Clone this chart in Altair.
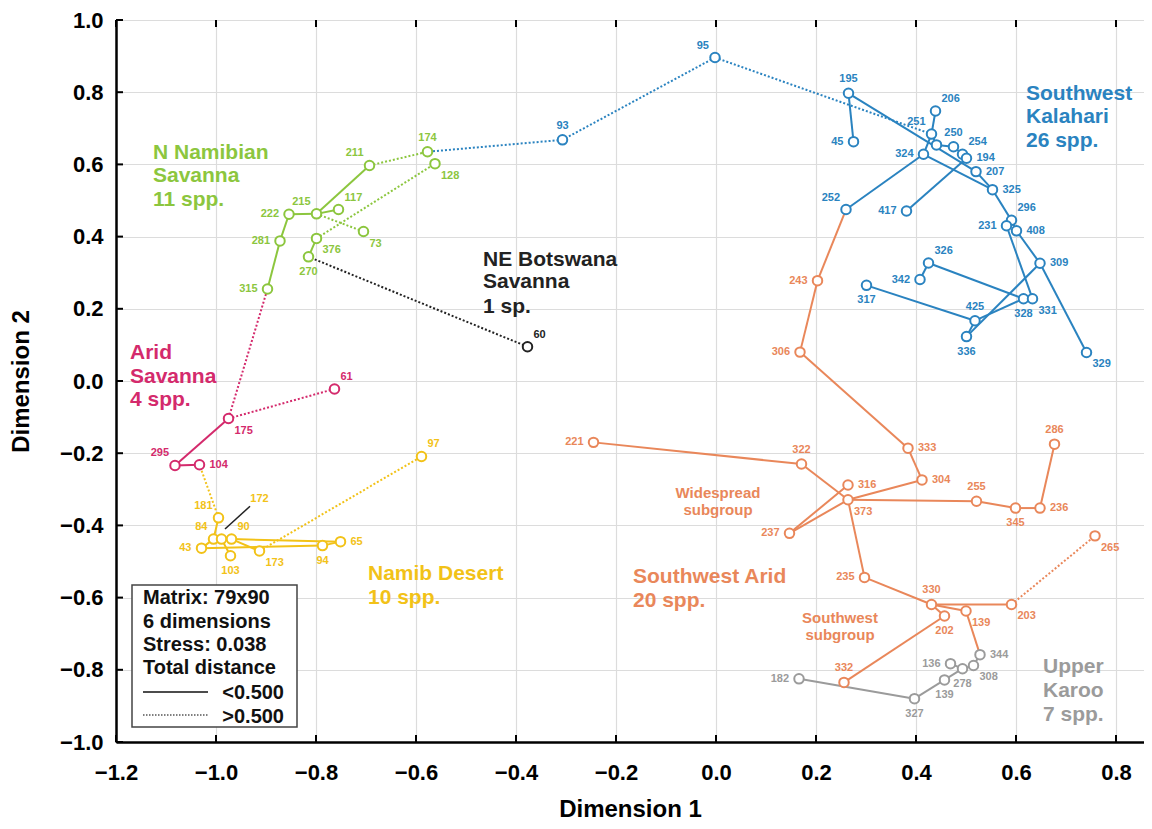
import altair as alt
import pandas as pd

FONT = "Liberation Sans"

# ---------------- data ----------------
# Southwest Kalahari, 26 spp.  ("_a" = unlabelled point)
K_ids = ["95", "93", "195", "45", "206", "251", "_a", "250", "254", "194", "324", "207", "325",
         "252", "417", "296", "231", "408", "309", "326", "342", "317", "425", "328", "331", "336", "329"]
K_x = [-0.002, -0.307, 0.265, 0.275, 0.439, 0.431, 0.441, 0.475, 0.493, 0.501, 0.415, 0.520, 0.553,
       0.260, 0.381, 0.591, 0.581, 0.601, 0.648, 0.425, 0.408, 0.301, 0.518, 0.615, 0.633, 0.501, 0.741]
K_y = [0.896, 0.668, 0.797, 0.663, 0.748, 0.684, 0.654, 0.649, 0.628, 0.617, 0.628, 0.580, 0.530,
       0.475, 0.471, 0.445, 0.430, 0.416, 0.326, 0.327, 0.281, 0.265, 0.167, 0.228, 0.228, 0.123, 0.079]
K_pos = ["nw", "n", "n", "w", "ne", "nw", "", "n", "ne", "e", "w", "e", "e",
         "nw", "w", "ne", "w", "e", "e", "ne", "w", "s", "n", "s", "se", "s", "se"]

# N Namibian Savanna, 11 spp.
N_ids = ["174", "128", "211", "215", "117", "222", "73", "281", "376", "270", "315"]
N_x = [-0.577, -0.562, -0.693, -0.799, -0.755, -0.854, -0.705, -0.872, -0.799, -0.815, -0.897]
N_y = [0.635, 0.602, 0.597, 0.463, 0.475, 0.462, 0.414, 0.388, 0.395, 0.344, 0.255]
N_pos = ["n", "se", "nw", "nw", "ne", "w", "se", "w", "se", "s", "w"]

# Arid Savanna, 4 spp.
A_ids = ["61", "175", "295", "104"]
A_x = [-0.763, -0.975, -1.082, -1.033]
A_y = [-0.022, -0.104, -0.234, -0.232]
A_pos = ["ne", "se", "nw", "e"]

# NE Botswana Savanna, 1 sp.
B_ids = ["60"]
B_x = [-0.377]
B_y = [0.095]
B_pos = ["ne"]

# Namib Desert, 10 spp.
D_ids = ["97", "181", "84", "172", "90", "43", "103", "173", "94", "65"]
D_x = [-0.589, -0.995, -1.005, -0.989, -0.969, -1.029, -0.971, -0.913, -0.787, -0.751]
D_y = [-0.209, -0.379, -0.438, -0.438, -0.438, -0.463, -0.484, -0.471, -0.456, -0.445]
D_pos = ["ne", "nw", "nw", "lead", "ne", "w", "s", "se", "s", "e"]

# Southwest Arid, 20 spp.
S_ids = ["243", "306", "221", "322", "333", "316", "373", "304", "255", "345", "236", "286",
         "237", "265", "235", "330", "202", "139", "203", "332"]
S_x = [0.203, 0.168, -0.245, 0.171, 0.384, 0.264, 0.264, 0.412, 0.521, 0.599, 0.648, 0.677,
       0.147, 0.758, 0.297, 0.431, 0.457, 0.500, 0.591, 0.256]
S_y = [0.278, 0.080, -0.170, -0.230, -0.186, -0.288, -0.329, -0.274, -0.333, -0.352, -0.352, -0.175,
       -0.422, -0.429, -0.544, -0.619, -0.651, -0.637, -0.619, -0.835]
S_pos = ["w", "w", "w", "n", "e", "e", "se", "e", "n", "s", "e", "n",
         "w", "se", "w", "n", "s", "se", "se", "n"]

# Upper Karoo, 7 spp.
U_ids = ["182", "327", "139", "278", "136", "308", "344"]
U_x = [0.166, 0.397, 0.457, 0.493, 0.469, 0.515, 0.528]
U_y = [-0.825, -0.880, -0.828, -0.797, -0.783, -0.788, -0.758]
U_pos = ["w", "s", "s", "s", "w", "se", "e"]

# links: from, to, style (s = solid, total distance < 0.5; d = dotted, > 0.5)
E_from = ["K95", "K95", "K93", "K195", "K195", "K324", "K324", "K251", "K251", "K_a", "K250", "K254",
          "K194", "K324", "K207", "K325", "K296", "K296", "K408", "K309", "K231", "K331", "K328",
          "K326", "K328", "K425", "K425", "K336",
          "N315", "N281", "N222", "N215", "N215", "N376", "N211", "N215", "N376", "B60",
          "A175", "A175", "A175", "A295", "D181",
          "D181", "D84", "D84", "D172", "D90", "D172", "D43", "D90", "D94", "D173",
          "S243", "S243", "S306", "S333", "S304", "S237", "S237", "S221", "S322", "S373", "S255",
          "S345", "S236", "S373", "S235", "S330", "S330", "S330", "S202", "S139", "S203",
          "U182", "U327", "U139", "U278", "U308", "U136"]
E_to = ["K93", "K251", "N174", "K45", "K207", "K252", "K251", "K206", "K_a", "K250", "K254", "K194",
        "K417", "K325", "K325", "K296", "K231", "K408", "K309", "K329", "K331", "K328", "K326",
        "K342", "K425", "K317", "K336", "K309",
        "N281", "N222", "N215", "N211", "N117", "N270", "N174", "N73", "N128", "N270",
        "N315", "A61", "A295", "A104", "A104",
        "D84", "D43", "D172", "D90", "D173", "D103", "D94", "D65", "D65", "D97",
        "K252", "S306", "S333", "S304", "S373", "S373", "S316", "S322", "S373", "S255", "S345",
        "S236", "S286", "S235", "S330", "S203", "S202", "S139", "S332", "U344", "S265",
        "U327", "U139", "U278", "U308", "U344", "U278"]
E_style = ["d", "d", "d", "s", "s", "s", "s", "s", "s", "s", "s", "s",
           "s", "s", "s", "s", "s", "s", "s", "s", "s", "s", "s",
           "s", "s", "s", "s", "s",
           "s", "s", "s", "s", "s", "s", "d", "d", "d", "d",
           "d", "d", "s", "s", "d",
           "s", "s", "s", "s", "s", "s", "s", "s", "s", "d",
           "s", "s", "s", "s", "s", "s", "s", "s", "s", "s", "s",
           "s", "s", "s", "s", "s", "s", "s", "s", "s", "d",
           "s", "s", "s", "s", "s", "s"]

# group titles (left aligned)
G_text = ["Southwest", "Kalahari", "26 spp.", "N Namibian", "Savanna", "11 spp.",
          "Arid", "Savanna", "4 spp.", "NE Botswana", "Savanna", "1 sp.",
          "Namib Desert", "10 spp.", "Southwest Arid", "20 spp.", "Upper", "Karoo", "7 spp."]
G_grp = ["K", "K", "K", "N", "N", "N", "A", "A", "A", "B", "B", "B", "D", "D", "S", "S", "U", "U", "U"]
G_x = [0.620, 0.620, 0.620, -1.126, -1.126, -1.126, -1.172, -1.172, -1.172, -0.466, -0.466, -0.466,
       -0.696, -0.696, -0.166, -0.166, 0.654, 0.654, 0.654]
G_y = [0.796, 0.730, 0.664, 0.631, 0.567, 0.501, 0.077, 0.011, -0.052, 0.336, 0.273, 0.204,
       -0.534, -0.601, -0.543, -0.609, -0.793, -0.860, -0.926]
# subgroup notes (centred)
SG_text = ["Widespread", "subgroup", "Southwest", "subgroup"]
SG_x = [0.004, 0.004, 0.248, 0.248]
SG_y = [-0.311, -0.358, -0.656, -0.703]

# leader line for label 172
LEAD_x, LEAD_y, LEAD_x2, LEAD_y2 = [-0.982], [-0.410], [-0.932], [-0.347]

x_ticks = [-1.2, -1.0, -0.8, -0.6, -0.4, -0.2, 0.0, 0.2, 0.4, 0.6, 0.8]
y_ticks = [-1.0, -0.8, -0.6, -0.4, -0.2, 0.0, 0.2, 0.4, 0.6, 0.8, 1.0]

legend_lines = ["Matrix: 79x90", "6 dimensions", "Stress: 0.038", "Total distance"]
legend_keys = ["<0.500", ">0.500"]

# ---------------- styles ----------------
colors = {"K": "#2a83c0", "N": "#8cc63e", "A": "#d42a6c", "B": "#222222",
          "D": "#f2c218", "S": "#e9875a", "U": "#9b9b9b"}

groups = [("K", K_ids, K_x, K_y, K_pos), ("N", N_ids, N_x, N_y, N_pos),
          ("A", A_ids, A_x, A_y, A_pos), ("B", B_ids, B_x, B_y, B_pos),
          ("D", D_ids, D_x, D_y, D_pos), ("S", S_ids, S_x, S_y, S_pos),
          ("U", U_ids, U_x, U_y, U_pos)]

rows = []
for g, ids, xs_, ys_, ps in groups:
    for i, x, y, p in zip(ids, xs_, ys_, ps):
        rows.append(dict(key=g + i, label="" if i.startswith("_") else i,
                         x=x, y=y, color=colors[g], pos=p))
nodes = pd.DataFrame(rows)
lk = nodes.set_index("key")

erows = []
for n, (a, b, s) in enumerate(zip(E_from, E_to, E_style)):
    for o, k in enumerate((a, b)):
        erows.append(dict(edge=n, o=o, x=lk.loc[k, "x"], y=lk.loc[k, "y"],
                          color=colors[a[0]], style=s))
edges = pd.DataFrame(erows)

W, H = 1028, 722
TOP = 12
xs = alt.Scale(domain=[-1.2, 0.856], nice=False, zero=False)
ys = alt.Scale(domain=[-1.0, 1.0], nice=False, zero=False)

xaxis = alt.Axis(values=x_ticks, format=".1f", title="Dimension 1", labelPadding=20,
                 titlePadding=14, labelFlush=False, labelOverlap=False)
yaxis = alt.Axis(values=y_ticks, format=".1f", title="Dimension 2", labelPadding=13,
                 titlePadding=26, labelFlush=False, labelOverlap=False)


def X():
    return alt.X("x:Q", scale=xs, axis=xaxis)


def Y():
    return alt.Y("y:Q", scale=ys, axis=yaxis)


solid = alt.Chart(edges[edges["style"] == "s"]).mark_line(strokeWidth=2).encode(
    x=X(), y=Y(), detail="edge:N", order="o:Q", color=alt.Color("color:N", scale=None))
dotted = alt.Chart(edges[edges["style"] == "d"]).mark_line(strokeWidth=2, strokeDash=[2, 2]).encode(
    x=X(), y=Y(), detail="edge:N", order="o:Q", color=alt.Color("color:N", scale=None))

lead = alt.Chart(pd.DataFrame(dict(x=LEAD_x, y=LEAD_y, x2=LEAD_x2, y2=LEAD_y2))).mark_rule(
    color="#222222", strokeWidth=1.5).encode(x=X(), y=Y(), x2="x2:Q", y2="y2:Q")

points = alt.Chart(nodes).mark_point(shape="circle", filled=True, size=90, strokeWidth=2).encode(
    x=X(), y=Y(), fill=alt.value("white"), stroke=alt.Stroke("color:N", scale=None),
    opacity=alt.value(1))

offs = {"e": (10, 0, "left"), "w": (-10, 0, "right"), "n": (0, -14, "center"),
        "s": (0, 15, "center"), "ne": (6, -12, "left"), "nw": (-6, -12, "right"),
        "se": (6, 12, "left"), "sw": (-6, 12, "right"), "lead": (38, -40, "center")}
label_layers = []
for p, (dx, dy, al) in offs.items():
    sub = nodes[(nodes["pos"] == p) & (nodes["label"] != "")]
    if len(sub) == 0:
        continue
    label_layers.append(alt.Chart(sub).mark_text(
        dx=dx, dy=dy, align=al, baseline="middle", font=FONT, fontSize=11,
        fontWeight="bold").encode(x=X(), y=Y(), text="label:N",
                                  color=alt.Color("color:N", scale=None)))

gdf = pd.DataFrame(dict(text=G_text, x=G_x, y=G_y, color=[colors[g] for g in G_grp]))
gtext = alt.Chart(gdf).mark_text(align="left", baseline="middle", font=FONT, fontSize=21,
                                 fontWeight="bold").encode(
    x=X(), y=Y(), text="text:N", color=alt.Color("color:N", scale=None))
sgdf = pd.DataFrame(dict(text=SG_text, x=SG_x, y=SG_y))
sgtext = alt.Chart(sgdf).mark_text(align="center", baseline="middle", font=FONT, fontSize=15,
                                   fontWeight="bold", color=colors["S"]).encode(
    x=X(), y=Y(), text="text:N")

# inward ticks
xt = pd.DataFrame(dict(x=x_ticks))
yt = pd.DataFrame(dict(y=y_ticks))
tick_b = alt.Chart(xt).mark_rule(color="black", strokeWidth=2).encode(
    x=X(), y=alt.value(H), y2=alt.value(H - 7))
tick_t = alt.Chart(xt).mark_rule(color="black", strokeWidth=2).encode(
    x=X(), y=alt.value(0), y2=alt.value(7))
tick_l = alt.Chart(yt).mark_rule(color="black", strokeWidth=2).encode(
    y=Y(), x=alt.value(0), x2=alt.value(7))

# legend box (annotation placed in pixels, relative to the plot's top-left corner)
B0 = 585 - 8 - TOP
one = pd.DataFrame(dict(a=[0]))
box = alt.Chart(one).mark_rect(fill="white", stroke="#444444", strokeWidth=1.5).encode(
    x=alt.value(16), x2=alt.value(181), y=alt.value(B0), y2=alt.value(B0 + 142))
ltxt = []
for t, py in zip(legend_lines, [13, 37, 60, 83]):
    ltxt.append(alt.Chart(one).mark_text(
        align="left", baseline="middle", font=FONT, fontSize=20, fontWeight="bold",
        color="#111111", text=t).encode(x=alt.value(27), y=alt.value(B0 + py)))
for t, py in zip(legend_keys, [108, 132]):
    ltxt.append(alt.Chart(one).mark_text(
        align="right", baseline="middle", font=FONT, fontSize=20, fontWeight="bold",
        color="#111111", text=t).encode(x=alt.value(168), y=alt.value(B0 + py)))
lsolid = alt.Chart(one).mark_rule(color="#111111", strokeWidth=1.5).encode(
    x=alt.value(27), x2=alt.value(92), y=alt.value(B0 + 107))
ldot = alt.Chart(one).mark_rule(color="#555555", strokeWidth=1.5, strokeDash=[1.5, 1.5]).encode(
    x=alt.value(27), x2=alt.value(92), y=alt.value(B0 + 130))

chart = alt.layer(
    solid, dotted, lead, points, *label_layers, gtext, sgtext,
    tick_b, tick_t, tick_l, box, *ltxt, lsolid, ldot
).properties(
    width=W, height=H,
    autosize=alt.AutoSizeParams(type="none"),
    padding={"left": 108, "top": TOP, "right": 0, "bottom": 813 - TOP - H},
).configure_axis(
    labelFont=FONT, labelFontSize=22, labelFontWeight="bold", labelColor="black",
    titleFont=FONT, titleFontSize=24, titleFontWeight="bold", titleColor="black",
    domainColor="black", domainWidth=2.5, gridColor="#dcdcdc", gridWidth=1.2, ticks=False,
).configure_view(stroke=None)

chart.save("out.html", embed_options={"renderer": "svg", "actions": False})
